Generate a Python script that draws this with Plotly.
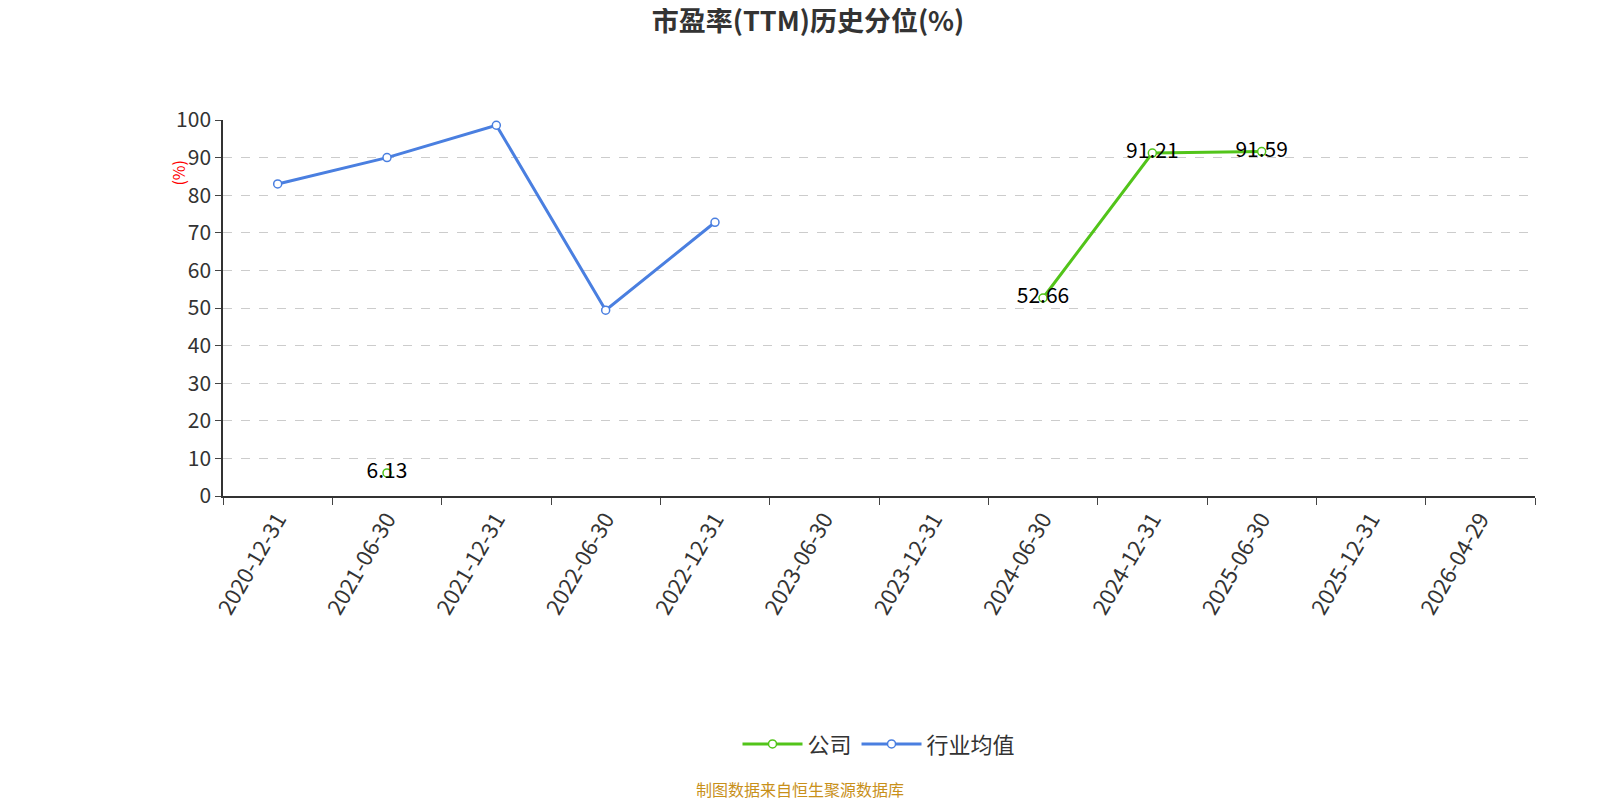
import plotly.graph_objects as go

dates = ["2020-12-31", "2021-06-30", "2021-12-31", "2022-06-30", "2022-12-31", "2023-06-30",
         "2023-12-31", "2024-06-30", "2024-12-31", "2025-06-30", "2025-12-31", "2026-04-29"]
company = [None, 6.13, None, None, None, None, None, 52.66, 91.21, 91.59, None, None]
industry = [83.0, 90.0, 98.6, 49.4, 72.8, None, None, None, None, None, None, None]

fig = go.Figure()

fig.add_trace(go.Scatter(
    x=dates, y=company, name="公司", mode="lines+markers+text",
    text=[f"{v:.2f}" if v is not None else "" for v in company],
    textposition="middle center", textfont=dict(size=21, color="#000"),
    line=dict(color="#52c41a", width=3),
    marker=dict(size=8, color="white", line=dict(color="#52c41a", width=1.5)),
    connectgaps=False,
))
fig.add_trace(go.Scatter(
    x=dates, y=industry, name="行业均值", mode="lines+markers",
    line=dict(color="#4a7fe0", width=3),
    marker=dict(size=8, color="white", line=dict(color="#4a7fe0", width=1.5)),
))

fig.update_layout(
    width=1600, height=800,
    paper_bgcolor="white", plot_bgcolor="white",
    font=dict(family="Noto Sans CJK SC, Noto Sans", color="#333"),
    title=dict(text="<b>市盈率(TTM)历史分位(%)</b>", x=0.5, y=0.995, yanchor="top",
               xanchor="center", font=dict(size=27, color="#333")),
    margin=dict(l=215, r=73, t=112, b=312),
    xaxis=dict(type="category", tickson="boundaries", ticks="outside", ticklen=7,
               tickangle=-60, tickfont=dict(size=22, color="#333"),
               showline=True, linecolor="#333", linewidth=1.5, showgrid=False,
               range=[-0.5, 11.5]),
    yaxis=dict(range=[0, 100], dtick=10, ticks="outside", ticklen=6,
               tickfont=dict(size=21, color="#333"),
               showline=True, linecolor="#333", linewidth=1.5,
               gridcolor="#ccc", griddash="dash", zeroline=False),
    legend=dict(orientation="h", x=0.5, xanchor="center", y=-0.66, yanchor="middle",
                font=dict(size=22, color="#333"), itemwidth=60),
    showlegend=True,
)

fig.add_annotation(text="(%)", xref="paper", yref="paper", x=-0.045, y=0.9,
                   textangle=-90, showarrow=False, font=dict(size=16, color="red"))
fig.add_annotation(text="制图数据来自恒生聚源数据库", xref="paper", yref="paper",
                   x=0.44, y=-0.78, yanchor="middle", showarrow=False,
                   font=dict(size=16, color="#c8901a"))

fig.write_html("out.html")
